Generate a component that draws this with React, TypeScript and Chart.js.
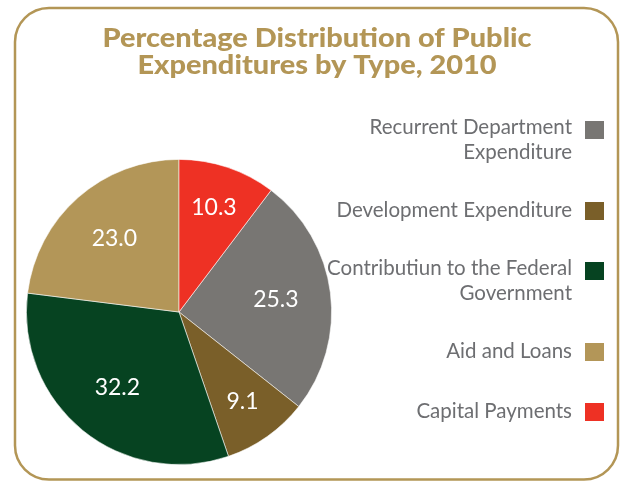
import React, { useEffect, useRef } from "react";
import { Chart, registerables } from "chart.js";

Chart.register(...registerables);

const titleLines = ["Percentage Distribution of Public", "Expenditures by Type, 2010"];
const categories = [
  "Recurrent Department\nExpenditure",
  "Development Expenditure",
  "Contributiun to the Federal\nGovernment",
  "Aid and Loans",
  "Capital Payments",
];
const shares = [25.3, 9.1, 32.2, 23.0, 10.3];
const sliceColors = ["#787673", "#7a5f29", "#064321", "#b39658", "#ee3124"];

const GOLD = "#b39656";
const LEGEND_TEXT = "#6d6e71";

function roundRect(ctx: CanvasRenderingContext2D, x: number, y: number, w: number, h: number, r: number) {
  ctx.beginPath();
  ctx.moveTo(x + r, y);
  ctx.lineTo(x + w - r, y);
  ctx.arcTo(x + w, y, x + w, y + r, r);
  ctx.lineTo(x + w, y + h - r);
  ctx.arcTo(x + w, y + h, x + w - r, y + h, r);
  ctx.lineTo(x + r, y + h);
  ctx.arcTo(x, y + h, x, y + h - r, r);
  ctx.lineTo(x, y + r);
  ctx.arcTo(x, y, x + r, y, r);
  ctx.closePath();
}

const decorPlugin = {
  id: "decor",
  beforeDraw(chart: any) {
    const ctx = chart.ctx as CanvasRenderingContext2D;
    ctx.save();
    ctx.fillStyle = "#ffffff";
    ctx.fillRect(0, 0, chart.width, chart.height);
    ctx.restore();
  },
  afterDraw(chart: any) {
    const ctx = chart.ctx as CanvasRenderingContext2D;
    ctx.save();
    // frame
    ctx.strokeStyle = GOLD;
    ctx.lineWidth = 2.5;
    roundRect(ctx, 15, 8, 603, 471.5, 34);
    ctx.stroke();

    // title
    ctx.fillStyle = GOLD;
    ctx.font = "900 26px Lato";
    ctx.textAlign = "center";
    ctx.textBaseline = "alphabetic";
    const target = 429;
    const w0 = ctx.measureText(titleLines[0]).width;
    const sx = target / w0;
    titleLines.forEach((line, i) => {
      ctx.save();
      ctx.translate(317, 47 + i * 26.5);
      ctx.scale(sx, 1);
      ctx.fillText(line, 0, 0);
      ctx.restore();
    });

    // slice value labels
    const meta = chart.getDatasetMeta(0);
    ctx.fillStyle = "#ffffff";
    ctx.font = "23px Lato";
    ctx.textAlign = "center";
    ctx.textBaseline = "middle";
    meta.data.forEach((arc: any, i: number) => {
      const p = arc.getProps(["x", "y", "startAngle", "endAngle", "outerRadius"], true);
      const mid = (p.startAngle + p.endAngle) / 2;
      const r = p.outerRadius * (shares[i] < 12 ? 0.72 : 0.64);
      ctx.fillText(shares[i].toFixed(1), p.x + Math.cos(mid) * r, p.y + Math.sin(mid) * r);
    });

    // legend
    ctx.font = "20.5px Lato";
    ctx.textAlign = "right";
    ctx.textBaseline = "alphabetic";
    let cy = 130;
    categories.forEach((label, i) => {
      const lines = label.split("\n");
      ctx.fillStyle = sliceColors[i];
      ctx.fillRect(585, cy - 9, 19, 18);
      ctx.fillStyle = LEGEND_TEXT;
      const first = cy + (lines.length > 1 ? 4 : 6);
      lines.forEach((ln, j) => ctx.fillText(ln, 572, first + j * 24.5));
      cy += 60 + (lines.length - 1) * 21;
    });
    ctx.restore();
  },
};

export default function App() {
  const ref = useRef<HTMLCanvasElement>(null);
  useEffect(() => {
    document.body.style.margin = "0";
    if (!ref.current) return;
    const total = shares.reduce((a, b) => a + b, 0);
    const chart = new Chart(ref.current, {
      type: "pie",
      data: {
        labels: categories,
        datasets: [
          {
            data: shares,
            backgroundColor: sliceColors,
            borderColor: "rgba(255,255,255,0.7)",
            borderWidth: 0.8,
          },
        ],
      },
      options: {
        animation: false,
        responsive: false,
        rotation: (shares[4] / total) * 360,
        layout: { padding: { left: 26, right: 289, top: 159, bottom: 16 } },
        plugins: {
          legend: { display: false },
          tooltip: { enabled: false },
          title: { display: false },
        },
      },
      plugins: [decorPlugin],
    });
    return () => chart.destroy();
  }, []);
  return (
    <div style={{ width: 621, height: 481 }}>
      <canvas ref={ref} width={621} height={481} />
    </div>
  );
}
